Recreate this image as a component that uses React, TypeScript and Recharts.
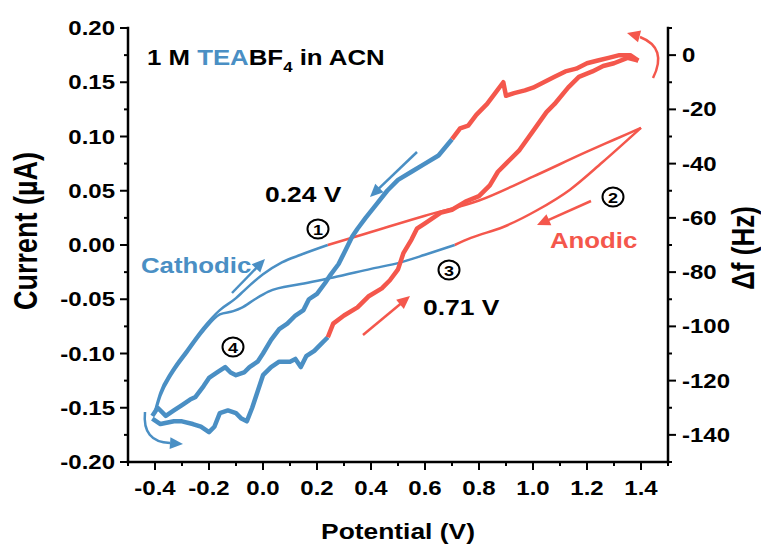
import { LineChart, Line, XAxis, YAxis } from "recharts";

const BLUE = "#4a8fc4";
const RED = "#f4574c";
const FONT = "'Liberation Sans', Arial, sans-serif";

// axis ticks
const xMajor = [-0.4, -0.2, 0, 0.2, 0.4, 0.6, 0.8, 1.0, 1.2, 1.4];
const xMinor = [-0.5, -0.3, -0.1, 0.1, 0.3, 0.5, 0.7, 0.9, 1.1, 1.3, 1.5];
const iMajor = [-0.2, -0.15, -0.1, -0.05, 0, 0.05, 0.1, 0.15, 0.2];
const iMinor = [-0.175, -0.125, -0.075, -0.025, 0.025, 0.075, 0.125, 0.175];
const fMajor = [-140, -120, -100, -80, -60, -40, -20, 0];
const fMinor = [-150, -130, -110, -90, -70, -50, -30, -10, 10];

// CV, forward branch (current, µA)
const cvFwdBlueV = [-0.4, -0.38, -0.34, -0.28, -0.22, -0.16, -0.1, -0.07, 0, 0.07, 0.14, 0.24];
const cvFwdBlueI = [-0.153, -0.136, -0.117, -0.096, -0.076, -0.06, -0.049, -0.042, -0.027, -0.016, -0.009, 0];
const cvFwdRedV = [0.24, 0.4, 0.6, 0.8, 1.0, 1.2, 1.3, 1.4];
const cvFwdRedI = [0, 0.012, 0.027, 0.041, 0.063, 0.086, 0.097, 0.108];
// CV, reverse branch
const cvRevRedV = [0.71, 0.77, 0.89, 1.015, 1.137, 1.256, 1.4];
const cvRevRedI = [0, 0.0065, 0.0166, 0.032, 0.051, 0.076, 0.108];
const cvRevBlueV = [-0.4, -0.38, -0.34, -0.28, -0.22, -0.16, -0.11, -0.08, -0.03, 0.02, 0.14, 0.26, 0.4, 0.51, 0.6, 0.71];
const cvRevBlueI = [-0.155, -0.139, -0.12, -0.099, -0.079, -0.064, -0.061, -0.058, -0.05, -0.043, -0.036, -0.03, -0.022, -0.016, -0.009, 0];

// frequency shift (Hz), upper trace
const dfUpBlueV = [-0.41, -0.39, -0.36, -0.33, -0.3, -0.27, -0.25, -0.22, -0.2, -0.17, -0.14, -0.12, -0.1, -0.07, -0.05, -0.02, 0, 0.03, 0.06, 0.09, 0.12, 0.15, 0.17, 0.2, 0.23, 0.25, 0.28, 0.3, 0.33, 0.35, 0.38, 0.42, 0.46, 0.5, 0.55, 0.6, 0.65, 0.7];
const dfUpBlueF = [-133, -130, -133, -131, -129, -127, -126, -122, -119, -117, -115, -117, -118, -117, -115, -113, -110, -105, -101, -99, -96, -94, -90, -88, -84, -81, -77, -73, -67, -64, -60, -55, -50, -46, -43, -40, -37, -31];
const dfUpRedV = [0.7, 0.73, 0.76, 0.79, 0.83, 0.86, 0.89, 0.9, 0.93, 0.97, 1.0, 1.04, 1.08, 1.12, 1.16, 1.2, 1.24, 1.28, 1.32, 1.36, 1.39];
const dfUpRedF = [-31, -27, -26, -22, -18, -14, -10, -15, -14, -13, -12, -10, -8, -6, -5, -3, -2, -1, 0, 0, -2];
// frequency shift, lower trace
const dfLoBlueV = [-0.41, -0.38, -0.33, -0.3, -0.26, -0.23, -0.2, -0.18, -0.16, -0.13, -0.1, -0.08, -0.06, -0.04, -0.02, 0, 0.03, 0.06, 0.1, 0.12, 0.14, 0.16, 0.19, 0.21, 0.24];
const dfLoBlueF = [-134, -136, -135, -135, -136, -137, -139, -137, -132, -131, -132, -134, -135, -130, -124, -118, -115, -113, -113, -112, -115, -111, -109, -107, -104];
const dfLoRedV = [0.24, 0.26, 0.3, 0.35, 0.39, 0.44, 0.47, 0.5, 0.52, 0.55, 0.57, 0.6, 0.63, 0.66, 0.7, 0.75, 0.8, 0.84, 0.87, 0.9, 0.95, 1.0, 1.05, 1.08, 1.13, 1.17, 1.22, 1.26, 1.3, 1.35, 1.39];
const dfLoRedF = [-104, -99, -96, -93, -89, -86, -83, -79, -73, -68, -64, -62, -60, -58, -57, -54, -52, -48, -43, -40, -35, -28, -21, -18, -12, -8, -6, -4, -3, -1, -2];

const pts = (vs: number[], ys: number[]) => vs.map((v, k) => ({ v, y: ys[k] }));
const has = (arr: number[], v: number) => arr.some((m) => Math.abs(m - v) < 1e-6);

const labelStyle = { fontFamily: FONT, fontWeight: 700, fontSize: 20, fill: "#000" };

const LeftTick = ({ x, y, payload }: any) => {
  const major = has(iMajor, payload.value);
  return (
    <g>
      <line x1={x - (major ? 8 : 4)} x2={x} y1={y} y2={y} stroke="#000" strokeWidth={2} />
      {major && (
        <text transform={`translate(${x - 13} ${y + 7}) scale(1.2 1)`} textAnchor="end" style={labelStyle}>
          {payload.value.toFixed(2)}
        </text>
      )}
    </g>
  );
};

const RightTick = ({ x, y, payload }: any) => {
  const major = has(fMajor, payload.value);
  return (
    <g>
      <line x1={x} x2={x + (major ? 8 : 4)} y1={y} y2={y} stroke="#000" strokeWidth={2} />
      {major && (
        <text transform={`translate(${x + 14} ${y + 7}) scale(1.2 1)`} textAnchor="start" style={labelStyle}>
          {payload.value}
        </text>
      )}
    </g>
  );
};

const BottomTick = ({ x, y, payload }: any) => {
  const major = has(xMajor, payload.value);
  return (
    <g>
      <line x1={x} x2={x} y1={y} y2={y + (major ? 8 : 4)} stroke="#000" strokeWidth={2} />
      {major && (
        <text transform={`translate(${x} ${y + 33}) scale(1.2 1)`} textAnchor="middle" style={labelStyle}>
          {payload.value.toFixed(1)}
        </text>
      )}
    </g>
  );
};

function Arrow({ x1, y1, x2, y2, color }: any) {
  const dx = x2 - x1, dy = y2 - y1;
  const L = Math.hypot(dx, dy);
  const ux = dx / L, uy = dy / L;
  const bx = x2 - ux * 13, by = y2 - uy * 13;
  return (
    <g>
      <line x1={x1} y1={y1} x2={bx + ux * 2} y2={by + uy * 2} stroke={color} strokeWidth={2.5} />
      <polygon points={`${x2},${y2} ${bx - uy * 6},${by + ux * 6} ${bx + uy * 6},${by - ux * 6}`} fill={color} />
    </g>
  );
}

function Head({ x, y, fx, fy, color }: any) {
  const dx = x - fx, dy = y - fy;
  const L = Math.hypot(dx, dy);
  const ux = dx / L, uy = dy / L;
  const bx = x - ux * 13, by = y - uy * 13;
  return <polygon points={`${x},${y} ${bx - uy * 6},${by + ux * 6} ${bx + uy * 6},${by - ux * 6}`} fill={color} />;
}

function T({ x, y, size, anchor = "start", fill = "#000", rot = false, children }: any) {
  const tr = rot ? `translate(${x} ${y}) rotate(-90) scale(1 1.2)` : `translate(${x} ${y}) scale(1.2 1)`;
  return (
    <text transform={tr} textAnchor={anchor} style={{ fontFamily: FONT, fontWeight: 700, fontSize: size, fill, whiteSpace: "pre" }}>
      {children}
    </text>
  );
}

function Circled({ x, y, n }: any) {
  return (
    <g>
      <ellipse cx={x} cy={y} rx={10.5} ry={9.5} fill="none" stroke="#000" strokeWidth={2} />
      <T x={x} y={y + 5.5} size={15} anchor="middle">{n}</T>
    </g>
  );
}

export default function App() {
  const common = { dataKey: "y", dot: false, isAnimationActive: false, strokeLinejoin: "round" as const };
  return (
    <div style={{ position: "absolute", left: 0, top: 0, width: 761, height: 545, background: "#fff" }}>
      <LineChart width={761} height={545} margin={{ top: 28, right: 0, bottom: 0, left: 0 }}>
        <XAxis
          dataKey="v"
          type="number"
          domain={[-0.5, 1.5]}
          ticks={[...xMinor, ...xMajor].sort((a, b) => a - b)}
          interval={0}
          height={83}
          tickSize={0}
          tickMargin={0}
          tickLine={false}
          tick={<BottomTick />}
          axisLine={{ stroke: "#000", strokeWidth: 2.5, strokeLinecap: "square" }}
          allowDataOverflow
        />
        <XAxis
          xAxisId="top"
          orientation="top"
          type="number"
          domain={[-0.5, 1.5]}
          height={0}
          tick={false}
          tickLine={false}
          axisLine={{ stroke: "#000", strokeWidth: 2.5, strokeLinecap: "square" }}
        />
        <YAxis
          yAxisId="left"
          type="number"
          domain={[-0.2, 0.2]}
          ticks={[...iMinor, ...iMajor].sort((a, b) => a - b)}
          interval={0}
          width={128}
          tickSize={0}
          tickMargin={0}
          tickLine={false}
          tick={<LeftTick />}
          axisLine={{ stroke: "#000", strokeWidth: 2.5, strokeLinecap: "square" }}
          allowDataOverflow
        />
        <YAxis
          yAxisId="right"
          orientation="right"
          type="number"
          domain={[-150, 10]}
          ticks={[...fMinor, ...fMajor].sort((a, b) => a - b)}
          interval={0}
          width={93}
          tickSize={0}
          tickMargin={0}
          tickLine={false}
          tick={<RightTick />}
          axisLine={{ stroke: "#000", strokeWidth: 2.5, strokeLinecap: "square" }}
          allowDataOverflow
        />
        <Line {...common} yAxisId="left" type="monotone" data={pts(cvFwdBlueV, cvFwdBlueI)} stroke={BLUE} strokeWidth={2.5} />
        <Line {...common} yAxisId="left" type="monotone" data={pts(cvFwdRedV, cvFwdRedI)} stroke={RED} strokeWidth={2.5} />
        <Line {...common} yAxisId="left" type="monotone" data={pts(cvRevRedV, cvRevRedI)} stroke={RED} strokeWidth={2.5} />
        <Line {...common} yAxisId="left" type="monotone" data={pts(cvRevBlueV, cvRevBlueI)} stroke={BLUE} strokeWidth={2.5} />
        <Line {...common} yAxisId="right" type="linear" data={pts(dfLoBlueV, dfLoBlueF)} stroke={BLUE} strokeWidth={4.5} />
        <Line {...common} yAxisId="right" type="linear" data={pts(dfLoRedV, dfLoRedF)} stroke={RED} strokeWidth={4.5} />
        <Line {...common} yAxisId="right" type="linear" data={pts(dfUpBlueV, dfUpBlueF)} stroke={BLUE} strokeWidth={4.5} />
        <Line {...common} yAxisId="right" type="linear" data={pts(dfUpRedV, dfUpRedF)} stroke={RED} strokeWidth={4.5} />
      </LineChart>
      <svg width={761} height={545} style={{ position: "absolute", left: 0, top: 0, pointerEvents: "none" }}>
        <text transform="translate(147 65) scale(1.2 1)" style={{ fontFamily: FONT, fontWeight: 700, fontSize: 21.5, whiteSpace: "pre" }}>
          <tspan fill="#000">1 M </tspan>
          <tspan fill={BLUE}>TEA</tspan>
          <tspan fill="#000">BF</tspan>
          <tspan fill="#000" fontSize={14} dy={7}>4</tspan>
          <tspan fill="#000" dy={-7}> in ACN</tspan>
        </text>
        <T x={265} y={202} size={22}>0.24 V</T>
        <T x={423} y={315} size={22}>0.71 V</T>
        <T x={141} y={273} size={21.5} fill={BLUE}>Cathodic</T>
        <T x={550} y={248} size={21.5} fill={RED}>Anodic</T>
        <T x={398} y={539} size={22} anchor="middle">Potential (V)</T>
        <T x={37} y={231} size={27} anchor="middle" rot>Current (µA)</T>
        <T x={754} y={248} size={26} anchor="middle" rot>Δf (Hz)</T>
        <Circled x={318} y={229} n="1" />
        <Circled x={613} y={197} n="2" />
        <Circled x={449} y={270} n="3" />
        <Circled x={233} y={347} n="4" />
        <Arrow x1={232} y1={293} x2={265} y2={259} color={BLUE} />
        <Arrow x1={417} y1={152} x2={370} y2={197} color={BLUE} />
        <Arrow x1={591} y1={201} x2={537} y2={225} color={RED} />
        <Arrow x1={363} y1={335} x2={410} y2={296} color={RED} />
        <path d="M653,78 Q668,48 640,37" fill="none" stroke={RED} strokeWidth={2.5} />
        <Head x={627} y={33} fx={642} fy={37} color={RED} />
        <path d="M145,412 Q142,442 170,443" fill="none" stroke={BLUE} strokeWidth={2.5} />
        <Head x={183} y={444} fx={168} fy={443} color={BLUE} />
      </svg>
    </div>
  );
}
